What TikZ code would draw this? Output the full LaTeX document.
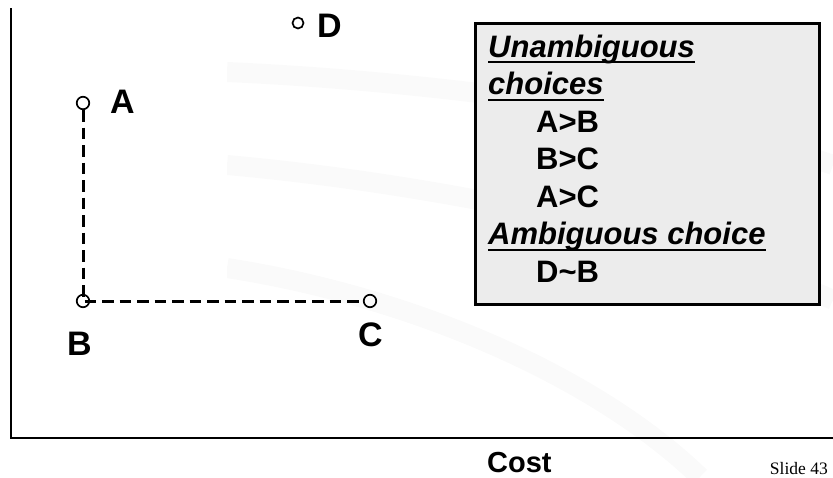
\documentclass[tikz,border=0pt]{standalone}
\usepackage{fontspec}
\setmainfont{Liberation Sans}
\newfontfamily\footerfont{Liberation Serif}
\definecolor{panel}{HTML}{ECECEC}
\definecolor{swooshgray}{HTML}{FAFAFA}
\begin{document}
\begin{tikzpicture}[x=1pt,y=-1pt,
  axis/.style={line width=2.6pt},
  guide/.style={line width=3pt, dash pattern=on 11.5pt off 6pt},
  choicept/.style={circle, draw, line width=1.7pt, inner sep=0pt, minimum size=12.5pt},
  ptlabel/.style={font=\bfseries\fontsize{34}{34}\selectfont, inner sep=0pt, anchor=base west},
  boxline/.style={font=\bfseries\fontsize{31}{37}\selectfont, inner sep=0pt, anchor=base west},
  boxhead/.style={boxline, font=\bfseries\itshape\fontsize{31}{37}\selectfont},
  headrule/.style={line width=2pt},
  swoosh/.style={swooshgray, line width=20pt}]
\useasboundingbox (0,0) rectangle (833,477);

% faint background bands
\begin{scope}
  \clip (227,0) rectangle (833,477);
  \draw[swoosh] (227,72) .. controls (450,82) and (700,118) .. (833,165);
  \draw[swoosh] (227,165) .. controls (450,185) and (700,240) .. (833,300);
  \draw[swoosh] (227,268) .. controls (420,298) and (600,380) .. (700,477);
\end{scope}

% axes
\coordinate (ytop) at (11,8);
\coordinate (origin) at (11,438);
\coordinate (xend) at (833,438);
\draw[axis] (ytop) -- (origin) -- (xend);
\node[font=\bfseries\fontsize{29}{29}\selectfont, inner sep=0pt, anchor=base west] (costlabel) at (487,472) {Cost};
\node[font=\footerfont\fontsize{17.5}{17.5}\selectfont, inner sep=0pt, anchor=base east] (slideno) at (828,474) {Slide 43};

% alternatives
\node[choicept] (A) at (83,103) {};
\node[choicept] (B) at (83,301) {};
\node[choicept] (C) at (370,301) {};
\node[choicept, minimum size=11pt] (D) at (298,23) {};
\draw[guide] (A.south) -- (B.center) -- (C.west);

\node[ptlabel] (lA) at (110,113) {A};
\node[ptlabel] (lB) at (67,355) {B};
\node[ptlabel] (lC) at (358,346) {C};
\node[ptlabel] (lD) at (317,37) {D};

% legend panel
\node[draw, line width=2.6pt, fill=panel, inner sep=0pt, minimum width=344pt, minimum height=281pt, anchor=north west] (panel) at (474,22) {};
\node[boxhead] (h1) at (488,57) {Unambiguous};
\node[boxhead] (h2) at (488,94.5) {choices};
\node[boxline] (c1) at (536,132) {A>B};
\node[boxline] (c2) at (536,169.5) {B>C};
\node[boxline] (c3) at (536,207) {A>C};
\node[boxhead] (h3) at (488,244.5) {Ambiguous choice};
\node[boxline] (c4) at (536,282) {D\char`~B};
\foreach \h in {h1,h2,h3}
  \draw[headrule] ([yshift=-5pt]\h.base west) -- ([yshift=-5pt]\h.base east);
\end{tikzpicture}
\end{document}
